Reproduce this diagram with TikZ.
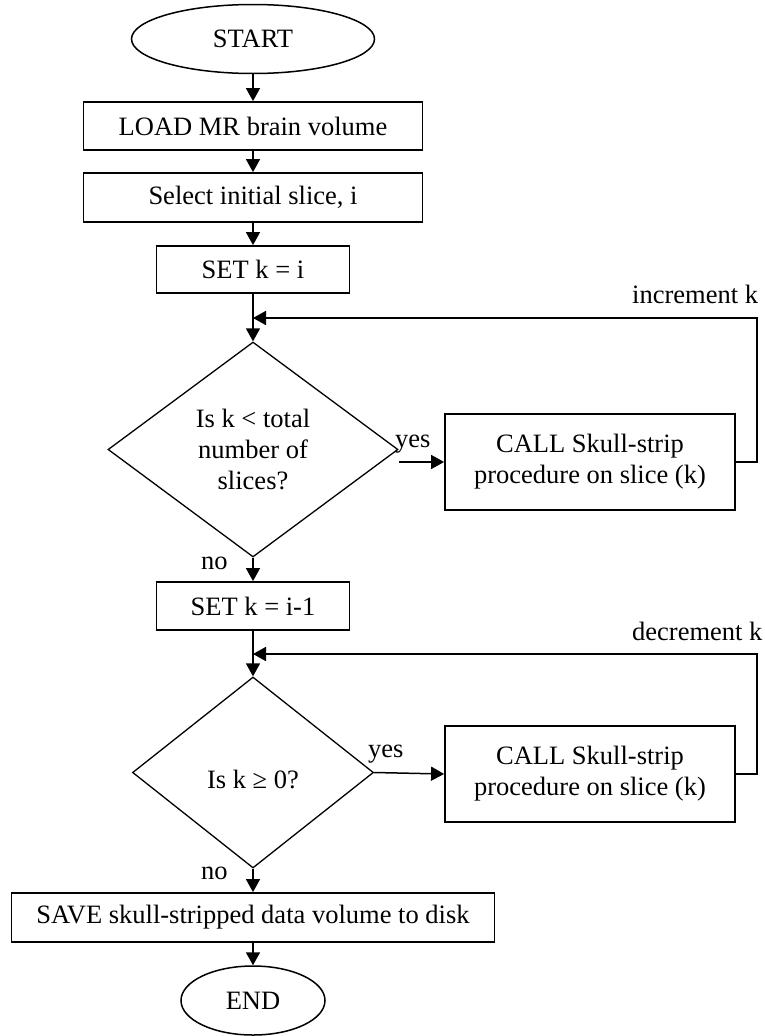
\documentclass[tikz,border=0pt]{standalone}
\usepackage{fontspec}
\setmainfont{Liberation Serif}
\usetikzlibrary{shapes.geometric,arrows.meta}
\begin{document}
\begin{tikzpicture}[x=1pt,y=-1pt,
  every node/.style={font=\fontsize{26.5}{31}\selectfont, inner sep=0pt},
  box/.style={draw, line width=1.8pt, rectangle, align=center},
  term/.style={draw, line width=1.5pt, ellipse},
  dec/.style={draw, line width=1.3pt, diamond, align=center},
  arr/.style={line width=1.5pt, -{Triangle[length=13pt,width=14pt]}},
  ln/.style={line width=1.8pt},
  lbl/.style={anchor=base west}]
\useasboundingbox (0,0) rectangle (765,1036);

\node[term, minimum width=243pt, minimum height=69pt] (start) at (253,39) {START};
\node[box, minimum width=339pt, minimum height=48pt] (load) at (253,126) {LOAD MR brain volume};
\node[box, minimum width=339pt, minimum height=49pt] (select) at (253,197.5) {Select initial slice, i};
\node[box, minimum width=193pt, minimum height=47pt] (set1) at (253,269.5) {SET k = i};
\node[dec, minimum width=290pt, minimum height=215pt] (d1) at (253,449.5) {Is k < total\\number of\\slices?};
\node[box, minimum width=290pt, minimum height=96pt] (c1) at (590,462) {CALL Skull-strip\\procedure on slice (k)};
\node[box, minimum width=193pt, minimum height=48pt] (set2) at (253,606) {SET k = i-1};
\node[dec, minimum width=241pt, minimum height=191pt] (d2) at (253,772.5) {};
\node (d2t) at (253,779) {Is k ≥ 0?};
\node[box, minimum width=290pt, minimum height=96pt] (c2) at (590,774) {CALL Skull-strip\\procedure on slice (k)};
\node[box, minimum width=483pt, minimum height=49pt] (save) at (253,917.5) {SAVE skull-stripped data volume to disk};
\node[term, minimum width=144pt, minimum height=69pt] (end) at (253,1000.5) {END};

\coordinate (j1) at (253,318);
\coordinate (r1) at (757,318);
\coordinate (j2) at (253,654);
\coordinate (r2) at (757,654);

\draw[arr] (start) -- (load);
\draw[arr] (load) -- (select);
\draw[arr] (select) -- (set1);
\draw[arr] (set1) -- (d1);
\draw[arr] (d1.east |- c1.west) -- (c1.west);
\draw[ln, -{Triangle[length=13pt,width=14pt]}] (c1.east) -| (r1) -- (j1);
\draw[arr] (d1.south) -- (set2.north);
\draw[arr] (set2) -- (d2);
\draw[arr] (d2.east) -- (c2.west);
\draw[ln, -{Triangle[length=13pt,width=14pt]}] (c2.east) -| (r2) -- (j2);
\draw[arr] (d2.south) -- (save.north);
\draw[arr] (save) -- (end);

\node[lbl] (inc) at (632,303) {increment k};
\node[lbl] (dec) at (632,640) {decrement k};
\node[lbl] (yes1) at (395,447) {yes};
\node[lbl] (yes2) at (368,757) {yes};
\node[lbl] (no1) at (201,569) {no};
\node[lbl] (no2) at (201,879) {no};
\end{tikzpicture}
\end{document}
